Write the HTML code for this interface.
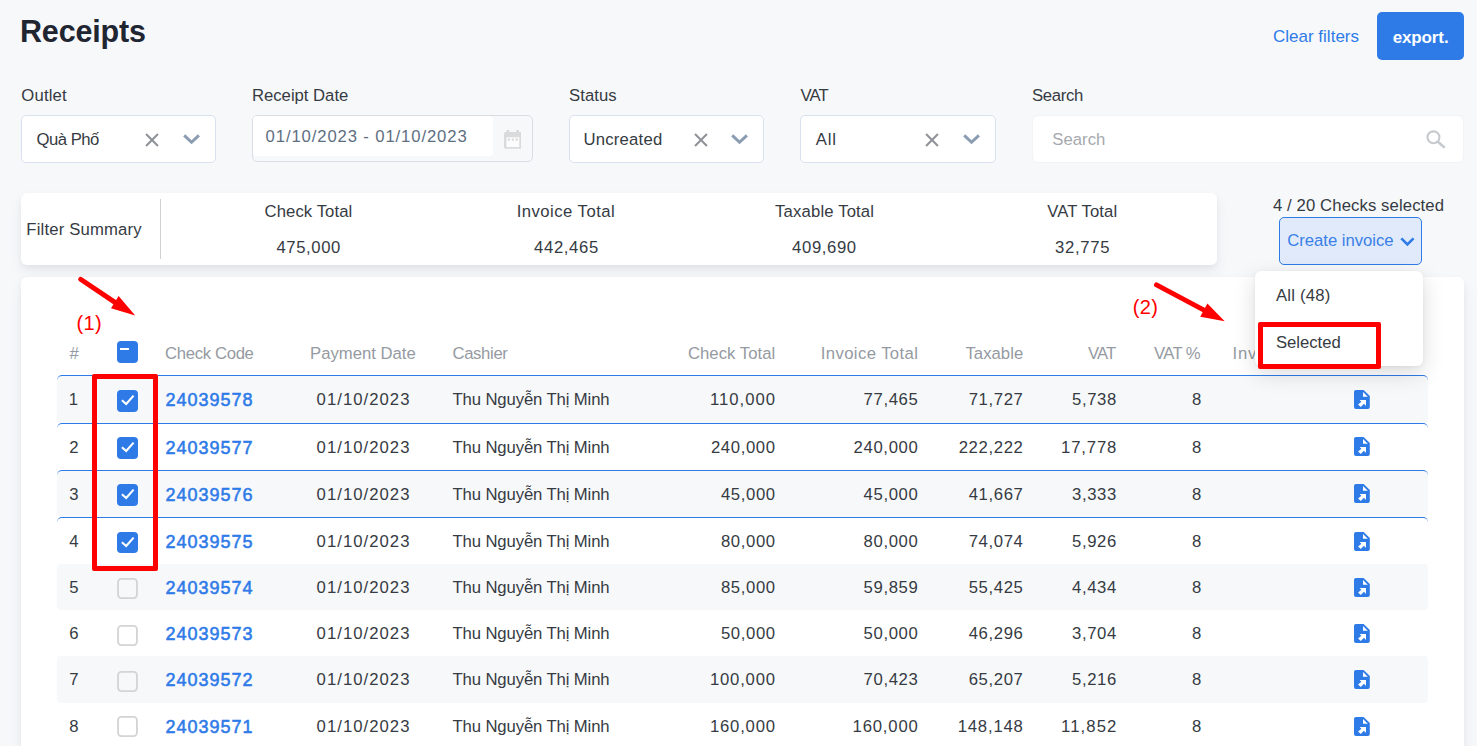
<!DOCTYPE html>
<html lang="en">
<head>
<meta charset="utf-8">
<title>Receipts</title>
<style>
html,body{margin:0;padding:0;}
body{width:1477px;height:746px;overflow:hidden;position:relative;background:#f7f8fa;font-family:"Liberation Sans",sans-serif;}
.t{position:absolute;white-space:nowrap;line-height:1;font-family:"Liberation Sans",sans-serif;}
.abs{position:absolute;box-sizing:border-box;}
.sel-box{position:absolute;box-sizing:border-box;background:#fff;border:1px solid #d8e2ef;border-radius:5px;}
.card{position:absolute;background:#fff;border-radius:6px;box-shadow:0 7px 14px 0 rgba(59,65,84,.07),0 3px 6px 0 rgba(0,0,0,.045);}
.row{position:absolute;left:57px;width:1371px;box-sizing:border-box;border-radius:4px;background:#fff;}
.row.g{background:#f7f8fa;}
.row.sel{border-top:1px solid #2e7be8;border-radius:5px 5px 4px 4px;}
.cb{position:absolute;left:117px;width:21px;height:22px;box-sizing:border-box;border-radius:4px;}
.cb.on{background:#2e7be8;}
.cb.off{height:21px;border:1.5px solid #c6c8cb;background:transparent;border-radius:4px;}
.fi{position:absolute;left:1354px;}
.cbo{position:absolute;left:117px;}
.ic{position:absolute;}
</style>
</head>
<body>


<!-- export button -->
<div class="abs" style="left:1377px;top:12px;width:87px;height:48px;background:#2e7be8;border-radius:5px;"></div>

<!-- filter boxes -->
<div class="sel-box" style="left:21px;top:115px;width:195px;height:48px;"></div>
<svg class="ic" style="left:145.4px;top:132.7px" width="14" height="14" viewBox="0 0 13.5 13.5"><path d="M1 1 L12.5 12.5 M12.5 1 L1 12.5" fill="none" stroke="#8f9298" stroke-width="2"/></svg>
<svg class="ic" style="left:183px;top:134px" width="17.1" height="10.8" viewBox="0 0 17.1 10.8"><path d="M1.2 1.3 L8.55 8.3 L15.9 1.3" fill="none" stroke="#8b9cb3" stroke-width="3" stroke-linejoin="miter"/></svg>

<div class="abs" style="left:252px;top:115px;width:281px;height:47px;border:1px solid #dadee4;border-radius:5px;background:#f7f8fa;"></div>
<div class="abs" style="left:253px;top:116px;width:240px;height:40px;background:#fff;border-radius:4px;"></div>
<svg class="ic" style="left:503.7px;top:130px" width="17.5" height="19" viewBox="0 0 17.5 19">
  <path d="M2.5 0 h2.8 v2 h6.9 v-2 h2.8 v2 h0.9 a1.6 1.6 0 0 1 1.6 1.6 v13.6 a1.6 1.6 0 0 1 -1.6 1.6 h-14.3 a1.6 1.6 0 0 1 -1.6 -1.6 v-13.6 a1.6 1.6 0 0 1 1.6 -1.6 h0.9 Z" fill="#d9dadb"/>
  <rect x="2.4" y="7.3" width="12.9" height="9.8" fill="#fdfdfe"/>
  <rect x="3.7" y="8.5" width="2.3" height="2.2" fill="#d9dadb"/><rect x="7.7" y="8.5" width="2.3" height="2.2" fill="#d9dadb"/><rect x="11.6" y="8.5" width="2.3" height="2.2" fill="#d9dadb"/>
</svg>

<div class="sel-box" style="left:569px;top:115px;width:195px;height:48px;"></div>
<svg class="ic" style="left:693.8px;top:132.7px" width="14" height="14" viewBox="0 0 13.5 13.5"><path d="M1 1 L12.5 12.5 M12.5 1 L1 12.5" fill="none" stroke="#8f9298" stroke-width="2"/></svg>
<svg class="ic" style="left:731.3px;top:134px" width="17.1" height="10.8" viewBox="0 0 17.1 10.8"><path d="M1.2 1.3 L8.55 8.3 L15.9 1.3" fill="none" stroke="#8b9cb3" stroke-width="3" stroke-linejoin="miter"/></svg>

<div class="sel-box" style="left:800px;top:115px;width:196px;height:48px;"></div>
<svg class="ic" style="left:925.2px;top:132.7px" width="14" height="14" viewBox="0 0 13.5 13.5"><path d="M1 1 L12.5 12.5 M12.5 1 L1 12.5" fill="none" stroke="#8f9298" stroke-width="2"/></svg>
<svg class="ic" style="left:963px;top:134px" width="17.1" height="10.8" viewBox="0 0 17.1 10.8"><path d="M1.2 1.3 L8.55 8.3 L15.9 1.3" fill="none" stroke="#8b9cb3" stroke-width="3" stroke-linejoin="miter"/></svg>

<div class="abs" style="left:1032px;top:115px;width:432px;height:48px;background:#fff;border:1px solid #f1f3f7;border-radius:6px;"></div>
<svg class="ic" style="left:1426px;top:129.5px" width="20" height="20" viewBox="0 0 20 20">
  <circle cx="7.45" cy="7.3" r="5.95" fill="none" stroke="#c6cace" stroke-width="2.1"/>
  <path d="M11.6 11.5 L18.7 17.8" stroke="#c6cace" stroke-width="2.6" stroke-linecap="butt"/>
</svg>

<!-- summary card -->
<div class="card" style="left:21px;top:193px;width:1196px;height:72px;"></div>
<div class="abs" style="left:160px;top:199px;width:1px;height:60px;background:#cfd1d4;"></div>

<!-- create invoice button -->
<div class="abs" style="left:1279px;top:217px;width:143px;height:48px;background:#e0eafb;border:1px solid #2e7be8;border-radius:5px;"></div>
<svg class="ic" style="left:1399.5px;top:236.8px" width="15" height="10" viewBox="0 0 15 10"><path d="M1.3 1.4 L7.4 7.4 L13.5 1.4" fill="none" stroke="#2e7be8" stroke-width="2.6"/></svg>

<!-- table card -->
<div class="card" style="left:21px;top:277px;width:1443px;height:500px;"></div>
<div class="cb on" style="top:341px;"><div style="position:absolute;left:2.9px;top:6.9px;width:9.3px;height:2.2px;background:#fff;"></div></div>
<div class="row sel g" style="top:375px;height:48px"></div>
<div class="cb on" style="top:390px;height:22px"><svg width="21" height="22" viewBox="0 0 21 22"><path d="M4.9 10.2 L9.2 14 L16.6 5.6" fill="none" stroke="#fff" stroke-width="2.1"/></svg></div>
<svg class="fi" style="top:390px" width="16" height="19" viewBox="0 0 16 19"><path d="M2 0 H9.6 L15.8 6 V17 a2 2 0 0 1 -2 2 H2 a2 2 0 0 1 -2 -2 V2 a2 2 0 0 1 2 -2 Z" fill="#2e7be8"/><path d="M9 2.1 V6.8 H13.8 Z" fill="#fff"/><path d="M5.6 9.9 H12 V15.9 L9.9 13.8 L6.8 16.9 L4.1 14.4 L7.4 11.7 Z" fill="#fff"/></svg>
<div class="row sel" style="top:423px;height:47px"></div>
<div class="cb on" style="top:437px;height:22px"><svg width="21" height="22" viewBox="0 0 21 22"><path d="M4.9 10.2 L9.2 14 L16.6 5.6" fill="none" stroke="#fff" stroke-width="2.1"/></svg></div>
<svg class="fi" style="top:437px" width="16" height="19" viewBox="0 0 16 19"><path d="M2 0 H9.6 L15.8 6 V17 a2 2 0 0 1 -2 2 H2 a2 2 0 0 1 -2 -2 V2 a2 2 0 0 1 2 -2 Z" fill="#2e7be8"/><path d="M9 2.1 V6.8 H13.8 Z" fill="#fff"/><path d="M5.6 9.9 H12 V15.9 L9.9 13.8 L6.8 16.9 L4.1 14.4 L7.4 11.7 Z" fill="#fff"/></svg>
<div class="row sel g" style="top:470px;height:47px"></div>
<div class="cb on" style="top:484px;height:22px"><svg width="21" height="22" viewBox="0 0 21 22"><path d="M4.9 10.2 L9.2 14 L16.6 5.6" fill="none" stroke="#fff" stroke-width="2.1"/></svg></div>
<svg class="fi" style="top:484px" width="16" height="19" viewBox="0 0 16 19"><path d="M2 0 H9.6 L15.8 6 V17 a2 2 0 0 1 -2 2 H2 a2 2 0 0 1 -2 -2 V2 a2 2 0 0 1 2 -2 Z" fill="#2e7be8"/><path d="M9 2.1 V6.8 H13.8 Z" fill="#fff"/><path d="M5.6 9.9 H12 V15.9 L9.9 13.8 L6.8 16.9 L4.1 14.4 L7.4 11.7 Z" fill="#fff"/></svg>
<div class="row sel" style="top:517px;height:47px"></div>
<div class="cb on" style="top:532px;height:21px"><svg width="21" height="22" viewBox="0 0 21 22"><path d="M4.9 10.2 L9.2 14 L16.6 5.6" fill="none" stroke="#fff" stroke-width="2.1"/></svg></div>
<svg class="fi" style="top:531.5px" width="16" height="19" viewBox="0 0 16 19"><path d="M2 0 H9.6 L15.8 6 V17 a2 2 0 0 1 -2 2 H2 a2 2 0 0 1 -2 -2 V2 a2 2 0 0 1 2 -2 Z" fill="#2e7be8"/><path d="M9 2.1 V6.8 H13.8 Z" fill="#fff"/><path d="M5.6 9.9 H12 V15.9 L9.9 13.8 L6.8 16.9 L4.1 14.4 L7.4 11.7 Z" fill="#fff"/></svg>
<div class="row g" style="top:564px;height:46px"></div>
<svg class="cbo" style="top:578.2px" width="21" height="21" viewBox="0 0 21 21"><rect x="1.05" y="0.95" width="18.9" height="19.1" rx="3.3" fill="none" stroke="#d3d4d5" stroke-width="1.8"/></svg>
<svg class="fi" style="top:578px" width="16" height="19" viewBox="0 0 16 19"><path d="M2 0 H9.6 L15.8 6 V17 a2 2 0 0 1 -2 2 H2 a2 2 0 0 1 -2 -2 V2 a2 2 0 0 1 2 -2 Z" fill="#2e7be8"/><path d="M9 2.1 V6.8 H13.8 Z" fill="#fff"/><path d="M5.6 9.9 H12 V15.9 L9.9 13.8 L6.8 16.9 L4.1 14.4 L7.4 11.7 Z" fill="#fff"/></svg>
<div class="row" style="top:610px;height:46px"></div>
<svg class="cbo" style="top:624.5px" width="21" height="21" viewBox="0 0 21 21"><rect x="1.05" y="0.95" width="18.9" height="19.1" rx="3.3" fill="none" stroke="#d3d4d5" stroke-width="1.8"/></svg>
<svg class="fi" style="top:624px" width="16" height="19" viewBox="0 0 16 19"><path d="M2 0 H9.6 L15.8 6 V17 a2 2 0 0 1 -2 2 H2 a2 2 0 0 1 -2 -2 V2 a2 2 0 0 1 2 -2 Z" fill="#2e7be8"/><path d="M9 2.1 V6.8 H13.8 Z" fill="#fff"/><path d="M5.6 9.9 H12 V15.9 L9.9 13.8 L6.8 16.9 L4.1 14.4 L7.4 11.7 Z" fill="#fff"/></svg>
<div class="row g" style="top:656px;height:47px"></div>
<svg class="cbo" style="top:670.5px" width="21" height="21" viewBox="0 0 21 21"><rect x="1.05" y="0.95" width="18.9" height="19.1" rx="3.3" fill="none" stroke="#d3d4d5" stroke-width="1.8"/></svg>
<svg class="fi" style="top:670px" width="16" height="19" viewBox="0 0 16 19"><path d="M2 0 H9.6 L15.8 6 V17 a2 2 0 0 1 -2 2 H2 a2 2 0 0 1 -2 -2 V2 a2 2 0 0 1 2 -2 Z" fill="#2e7be8"/><path d="M9 2.1 V6.8 H13.8 Z" fill="#fff"/><path d="M5.6 9.9 H12 V15.9 L9.9 13.8 L6.8 16.9 L4.1 14.4 L7.4 11.7 Z" fill="#fff"/></svg>
<div class="row" style="top:703px;height:46px"></div>
<svg class="cbo" style="top:716.4px" width="21" height="21" viewBox="0 0 21 21"><rect x="1.05" y="0.95" width="18.9" height="19.1" rx="3.3" fill="none" stroke="#d3d4d5" stroke-width="1.8"/></svg>
<svg class="fi" style="top:717px" width="16" height="19" viewBox="0 0 16 19"><path d="M2 0 H9.6 L15.8 6 V17 a2 2 0 0 1 -2 2 H2 a2 2 0 0 1 -2 -2 V2 a2 2 0 0 1 2 -2 Z" fill="#2e7be8"/><path d="M9 2.1 V6.8 H13.8 Z" fill="#fff"/><path d="M5.6 9.9 H12 V15.9 L9.9 13.8 L6.8 16.9 L4.1 14.4 L7.4 11.7 Z" fill="#fff"/></svg>
<span class="t" style="left:20.00px;top:16.18px;font-size:30.5px;letter-spacing:-0.168px;color:#1f2632;font-weight:700;">Receipts</span>
<span class="t" style="left:1273.00px;top:27.61px;font-size:17px;letter-spacing:0.003px;color:#2e7be8;">Clear filters</span>
<span class="t" style="left:1392.70px;top:28.81px;font-size:17px;letter-spacing:-0.126px;color:#ffffff;font-weight:700;">export.</span>
<span class="t" style="left:21.30px;top:87.86px;font-size:16.7px;letter-spacing:0.163px;color:#363b43;">Outlet</span>
<span class="t" style="left:252.00px;top:87.86px;font-size:16.7px;letter-spacing:-0.017px;color:#363b43;">Receipt Date</span>
<span class="t" style="left:569.10px;top:87.86px;font-size:16.7px;letter-spacing:0.027px;color:#363b43;">Status</span>
<span class="t" style="left:800.50px;top:87.86px;font-size:16.7px;letter-spacing:-0.941px;color:#363b43;">VAT</span>
<span class="t" style="left:1032.00px;top:87.86px;font-size:16.7px;letter-spacing:-0.319px;color:#363b43;">Search</span>
<span class="t" style="left:36.60px;top:131.56px;font-size:16.7px;letter-spacing:-0.532px;color:#363b43;">Quà Phố</span>
<span class="t" style="left:265.60px;top:129.16px;font-size:16.7px;letter-spacing:0.873px;color:#5e6e82;">01/10/2023 - 01/10/2023</span>
<span class="t" style="left:583.40px;top:131.56px;font-size:16.7px;letter-spacing:0.236px;color:#363b43;">Uncreated</span>
<span class="t" style="left:815.80px;top:131.56px;font-size:16.7px;letter-spacing:0.831px;color:#363b43;">All</span>
<span class="t" style="left:1052.20px;top:132.16px;font-size:16.7px;letter-spacing:0.061px;color:#a6a9ae;">Search</span>
<span class="t" style="left:26.30px;top:221.86px;font-size:16.7px;letter-spacing:0.164px;color:#363b43;">Filter Summary</span>
<span class="t" style="left:264.60px;top:204.06px;font-size:16.7px;letter-spacing:0.072px;color:#363b43;">Check Total</span>
<span class="t" style="left:276.40px;top:239.76px;font-size:16.7px;letter-spacing:0.610px;color:#363b43;">475,000</span>
<span class="t" style="left:516.70px;top:204.06px;font-size:16.7px;letter-spacing:0.462px;color:#363b43;">Invoice Total</span>
<span class="t" style="left:534.00px;top:239.76px;font-size:16.7px;letter-spacing:0.660px;color:#363b43;">442,465</span>
<span class="t" style="left:775.10px;top:204.06px;font-size:16.7px;letter-spacing:0.151px;color:#363b43;">Taxable Total</span>
<span class="t" style="left:792.10px;top:239.76px;font-size:16.7px;letter-spacing:0.610px;color:#363b43;">409,690</span>
<span class="t" style="left:1047.20px;top:204.06px;font-size:16.7px;letter-spacing:0.081px;color:#363b43;">VAT Total</span>
<span class="t" style="left:1055.00px;top:239.76px;font-size:16.7px;letter-spacing:0.688px;color:#363b43;">32,775</span>
<span class="t" style="left:1273.00px;top:198.26px;font-size:16.7px;letter-spacing:0.103px;color:#363b43;">4 / 20 Checks selected</span>
<span class="t" style="left:1287.30px;top:233.46px;font-size:16.7px;letter-spacing:-0.037px;color:#3a80e6;">Create invoice</span>
<span class="t" style="left:76.60px;top:313.07px;font-size:20px;letter-spacing:0.258px;color:#ff0000;">(1)</span>
<span class="t" style="left:1132.80px;top:297.07px;font-size:20px;letter-spacing:0.308px;color:#ff0000;">(2)</span>
<span class="t" style="left:69.55px;top:345.56px;font-size:16.7px;letter-spacing:0.000px;color:#959aa2;">#</span>
<span class="t" style="left:165.00px;top:345.56px;font-size:16.7px;letter-spacing:-0.328px;color:#959aa2;">Check Code</span>
<span class="t" style="left:310.10px;top:345.56px;font-size:16.7px;letter-spacing:-0.014px;color:#959aa2;">Payment Date</span>
<span class="t" style="left:452.50px;top:345.56px;font-size:16.7px;letter-spacing:-0.357px;color:#959aa2;">Cashier</span>
<span class="t" style="left:687.90px;top:345.56px;font-size:16.7px;letter-spacing:0.042px;color:#959aa2;">Check Total</span>
<span class="t" style="left:820.70px;top:345.56px;font-size:16.7px;letter-spacing:0.404px;color:#959aa2;">Invoice Total</span>
<span class="t" style="left:965.50px;top:345.56px;font-size:16.7px;letter-spacing:0.027px;color:#959aa2;">Taxable</span>
<span class="t" style="left:1087.90px;top:345.56px;font-size:16.7px;letter-spacing:-0.841px;color:#959aa2;">VAT</span>
<span class="t" style="left:1154.00px;top:345.56px;font-size:16.7px;letter-spacing:-0.653px;color:#959aa2;">VAT %</span>
<span class="t" style="left:1232.60px;top:345.56px;font-size:16.7px;letter-spacing:0.801px;color:#959aa2;">Invoice</span>
<span class="t" style="left:68.80px;top:392.15px;font-size:16.7px;letter-spacing:0.000px;color:#363b43;">1</span>
<span class="t" style="left:165.50px;top:391.40px;font-size:18px;letter-spacing:0.975px;color:#2e7be8;-webkit-text-stroke:0.55px #2e7be8;">24039578</span>
<span class="t" style="left:316.60px;top:392.15px;font-size:16.7px;letter-spacing:1.040px;color:#363b43;">01/10/2023</span>
<span class="t" style="left:452.50px;top:392.15px;font-size:16.7px;letter-spacing:-0.120px;color:#363b43;">Thu Nguyễn Thị Minh</span>
<span class="t" style="left:709.90px;top:392.15px;font-size:16.7px;letter-spacing:1.017px;color:#363b43;">110,000</span>
<span class="t" style="left:863.60px;top:392.15px;font-size:16.7px;letter-spacing:0.628px;color:#363b43;">77,465</span>
<span class="t" style="left:968.70px;top:392.15px;font-size:16.7px;letter-spacing:0.628px;color:#363b43;">71,727</span>
<span class="t" style="left:1072.10px;top:392.15px;font-size:16.7px;letter-spacing:0.605px;color:#363b43;">5,738</span>
<span class="t" style="left:1191.95px;top:392.15px;font-size:16.7px;letter-spacing:0.000px;color:#363b43;">8</span>
<span class="t" style="left:69.30px;top:440.15px;font-size:16.7px;letter-spacing:0.000px;color:#363b43;">2</span>
<span class="t" style="left:165.50px;top:439.40px;font-size:18px;letter-spacing:0.975px;color:#2e7be8;-webkit-text-stroke:0.55px #2e7be8;">24039577</span>
<span class="t" style="left:316.60px;top:440.15px;font-size:16.7px;letter-spacing:1.040px;color:#363b43;">01/10/2023</span>
<span class="t" style="left:452.50px;top:440.15px;font-size:16.7px;letter-spacing:-0.120px;color:#363b43;">Thu Nguyễn Thị Minh</span>
<span class="t" style="left:710.90px;top:440.15px;font-size:16.7px;letter-spacing:0.643px;color:#363b43;">240,000</span>
<span class="t" style="left:853.60px;top:440.15px;font-size:16.7px;letter-spacing:0.643px;color:#363b43;">240,000</span>
<span class="t" style="left:958.70px;top:440.15px;font-size:16.7px;letter-spacing:0.643px;color:#363b43;">222,222</span>
<span class="t" style="left:1061.10px;top:440.15px;font-size:16.7px;letter-spacing:0.828px;color:#363b43;">17,778</span>
<span class="t" style="left:1191.95px;top:440.15px;font-size:16.7px;letter-spacing:0.000px;color:#363b43;">8</span>
<span class="t" style="left:69.30px;top:487.15px;font-size:16.7px;letter-spacing:0.000px;color:#363b43;">3</span>
<span class="t" style="left:165.50px;top:486.40px;font-size:18px;letter-spacing:0.975px;color:#2e7be8;-webkit-text-stroke:0.55px #2e7be8;">24039576</span>
<span class="t" style="left:316.60px;top:487.15px;font-size:16.7px;letter-spacing:1.040px;color:#363b43;">01/10/2023</span>
<span class="t" style="left:452.50px;top:487.15px;font-size:16.7px;letter-spacing:-0.120px;color:#363b43;">Thu Nguyễn Thị Minh</span>
<span class="t" style="left:720.90px;top:487.15px;font-size:16.7px;letter-spacing:0.628px;color:#363b43;">45,000</span>
<span class="t" style="left:863.60px;top:487.15px;font-size:16.7px;letter-spacing:0.628px;color:#363b43;">45,000</span>
<span class="t" style="left:968.70px;top:487.15px;font-size:16.7px;letter-spacing:0.628px;color:#363b43;">41,667</span>
<span class="t" style="left:1072.10px;top:487.15px;font-size:16.7px;letter-spacing:0.605px;color:#363b43;">3,333</span>
<span class="t" style="left:1191.95px;top:487.15px;font-size:16.7px;letter-spacing:0.000px;color:#363b43;">8</span>
<span class="t" style="left:69.30px;top:534.15px;font-size:16.7px;letter-spacing:0.000px;color:#363b43;">4</span>
<span class="t" style="left:165.50px;top:533.40px;font-size:18px;letter-spacing:0.975px;color:#2e7be8;-webkit-text-stroke:0.55px #2e7be8;">24039575</span>
<span class="t" style="left:316.60px;top:534.15px;font-size:16.7px;letter-spacing:1.040px;color:#363b43;">01/10/2023</span>
<span class="t" style="left:452.50px;top:534.15px;font-size:16.7px;letter-spacing:-0.120px;color:#363b43;">Thu Nguyễn Thị Minh</span>
<span class="t" style="left:720.90px;top:534.15px;font-size:16.7px;letter-spacing:0.628px;color:#363b43;">80,000</span>
<span class="t" style="left:863.60px;top:534.15px;font-size:16.7px;letter-spacing:0.628px;color:#363b43;">80,000</span>
<span class="t" style="left:968.70px;top:534.15px;font-size:16.7px;letter-spacing:0.628px;color:#363b43;">74,074</span>
<span class="t" style="left:1072.10px;top:534.15px;font-size:16.7px;letter-spacing:0.605px;color:#363b43;">5,926</span>
<span class="t" style="left:1191.95px;top:534.15px;font-size:16.7px;letter-spacing:0.000px;color:#363b43;">8</span>
<span class="t" style="left:69.30px;top:580.15px;font-size:16.7px;letter-spacing:0.000px;color:#363b43;">5</span>
<span class="t" style="left:165.50px;top:579.40px;font-size:18px;letter-spacing:0.975px;color:#2e7be8;-webkit-text-stroke:0.55px #2e7be8;">24039574</span>
<span class="t" style="left:316.60px;top:580.15px;font-size:16.7px;letter-spacing:1.040px;color:#363b43;">01/10/2023</span>
<span class="t" style="left:452.50px;top:580.15px;font-size:16.7px;letter-spacing:-0.120px;color:#363b43;">Thu Nguyễn Thị Minh</span>
<span class="t" style="left:720.90px;top:580.15px;font-size:16.7px;letter-spacing:0.628px;color:#363b43;">85,000</span>
<span class="t" style="left:863.60px;top:580.15px;font-size:16.7px;letter-spacing:0.628px;color:#363b43;">59,859</span>
<span class="t" style="left:968.70px;top:580.15px;font-size:16.7px;letter-spacing:0.628px;color:#363b43;">55,425</span>
<span class="t" style="left:1072.10px;top:580.15px;font-size:16.7px;letter-spacing:0.605px;color:#363b43;">4,434</span>
<span class="t" style="left:1191.95px;top:580.15px;font-size:16.7px;letter-spacing:0.000px;color:#363b43;">8</span>
<span class="t" style="left:69.30px;top:626.15px;font-size:16.7px;letter-spacing:0.000px;color:#363b43;">6</span>
<span class="t" style="left:165.50px;top:625.40px;font-size:18px;letter-spacing:0.975px;color:#2e7be8;-webkit-text-stroke:0.55px #2e7be8;">24039573</span>
<span class="t" style="left:316.60px;top:626.15px;font-size:16.7px;letter-spacing:1.040px;color:#363b43;">01/10/2023</span>
<span class="t" style="left:452.50px;top:626.15px;font-size:16.7px;letter-spacing:-0.120px;color:#363b43;">Thu Nguyễn Thị Minh</span>
<span class="t" style="left:720.90px;top:626.15px;font-size:16.7px;letter-spacing:0.628px;color:#363b43;">50,000</span>
<span class="t" style="left:863.60px;top:626.15px;font-size:16.7px;letter-spacing:0.628px;color:#363b43;">50,000</span>
<span class="t" style="left:968.70px;top:626.15px;font-size:16.7px;letter-spacing:0.628px;color:#363b43;">46,296</span>
<span class="t" style="left:1072.10px;top:626.15px;font-size:16.7px;letter-spacing:0.605px;color:#363b43;">3,704</span>
<span class="t" style="left:1191.95px;top:626.15px;font-size:16.7px;letter-spacing:0.000px;color:#363b43;">8</span>
<span class="t" style="left:69.30px;top:672.15px;font-size:16.7px;letter-spacing:0.000px;color:#363b43;">7</span>
<span class="t" style="left:165.50px;top:671.40px;font-size:18px;letter-spacing:0.975px;color:#2e7be8;-webkit-text-stroke:0.55px #2e7be8;">24039572</span>
<span class="t" style="left:316.60px;top:672.15px;font-size:16.7px;letter-spacing:1.040px;color:#363b43;">01/10/2023</span>
<span class="t" style="left:452.50px;top:672.15px;font-size:16.7px;letter-spacing:-0.120px;color:#363b43;">Thu Nguyễn Thị Minh</span>
<span class="t" style="left:709.90px;top:672.15px;font-size:16.7px;letter-spacing:0.810px;color:#363b43;">100,000</span>
<span class="t" style="left:863.60px;top:672.15px;font-size:16.7px;letter-spacing:0.628px;color:#363b43;">70,423</span>
<span class="t" style="left:968.70px;top:672.15px;font-size:16.7px;letter-spacing:0.628px;color:#363b43;">65,207</span>
<span class="t" style="left:1072.10px;top:672.15px;font-size:16.7px;letter-spacing:0.605px;color:#363b43;">5,216</span>
<span class="t" style="left:1191.95px;top:672.15px;font-size:16.7px;letter-spacing:0.000px;color:#363b43;">8</span>
<span class="t" style="left:69.30px;top:719.15px;font-size:16.7px;letter-spacing:0.000px;color:#363b43;">8</span>
<span class="t" style="left:165.50px;top:718.40px;font-size:18px;letter-spacing:0.975px;color:#2e7be8;-webkit-text-stroke:0.55px #2e7be8;">24039571</span>
<span class="t" style="left:316.60px;top:719.15px;font-size:16.7px;letter-spacing:1.040px;color:#363b43;">01/10/2023</span>
<span class="t" style="left:452.50px;top:719.15px;font-size:16.7px;letter-spacing:-0.120px;color:#363b43;">Thu Nguyễn Thị Minh</span>
<span class="t" style="left:709.90px;top:719.15px;font-size:16.7px;letter-spacing:0.810px;color:#363b43;">160,000</span>
<span class="t" style="left:852.60px;top:719.15px;font-size:16.7px;letter-spacing:0.810px;color:#363b43;">160,000</span>
<span class="t" style="left:957.70px;top:719.15px;font-size:16.7px;letter-spacing:0.810px;color:#363b43;">148,148</span>
<span class="t" style="left:1061.10px;top:719.15px;font-size:16.7px;letter-spacing:1.076px;color:#363b43;">11,852</span>
<span class="t" style="left:1191.95px;top:719.15px;font-size:16.7px;letter-spacing:0.000px;color:#363b43;">8</span>

<!-- dropdown -->
<div class="abs" style="left:1255px;top:271px;width:168px;height:95px;background:#fff;border-radius:6px;box-shadow:0 7px 22px rgba(0,0,0,.15),0 1px 4px rgba(0,0,0,.05);"></div>
<span class="t" style="left:1275.90px;top:287.76px;font-size:16.7px;letter-spacing:0.229px;color:#363b43;">All (48)</span>
<span class="t" style="left:1275.90px;top:334.56px;font-size:16.7px;letter-spacing:-0.009px;color:#363b43;">Selected</span>

<!-- annotations -->
<div class="abs" style="left:92px;top:374px;width:65.5px;height:197px;border:5px solid #ff0000;border-radius:2px;"></div>
<div class="abs" style="left:1258px;top:322px;width:123px;height:46.7px;border:5.2px solid #ff0000;border-radius:2px;"></div>
<svg class="ic" style="left:0;top:0" width="1477" height="746" viewBox="0 0 1477 746">
  <path d="M80.6 279.3 L115 302.4" stroke="#ff0000" stroke-width="4.9" stroke-linecap="round" fill="none"/>
  <path d="M118.6 295.9 L111 308.2 L135.2 315.4 Z" fill="#ff0000"/>
  <path d="M1156.5 284.8 L1204 310.2" stroke="#ff0000" stroke-width="4.9" stroke-linecap="round" fill="none"/>
  <path d="M1207.4 303.4 L1200.2 316.7 L1224.7 321.3 Z" fill="#ff0000"/>
</svg>
</body>
</html>
